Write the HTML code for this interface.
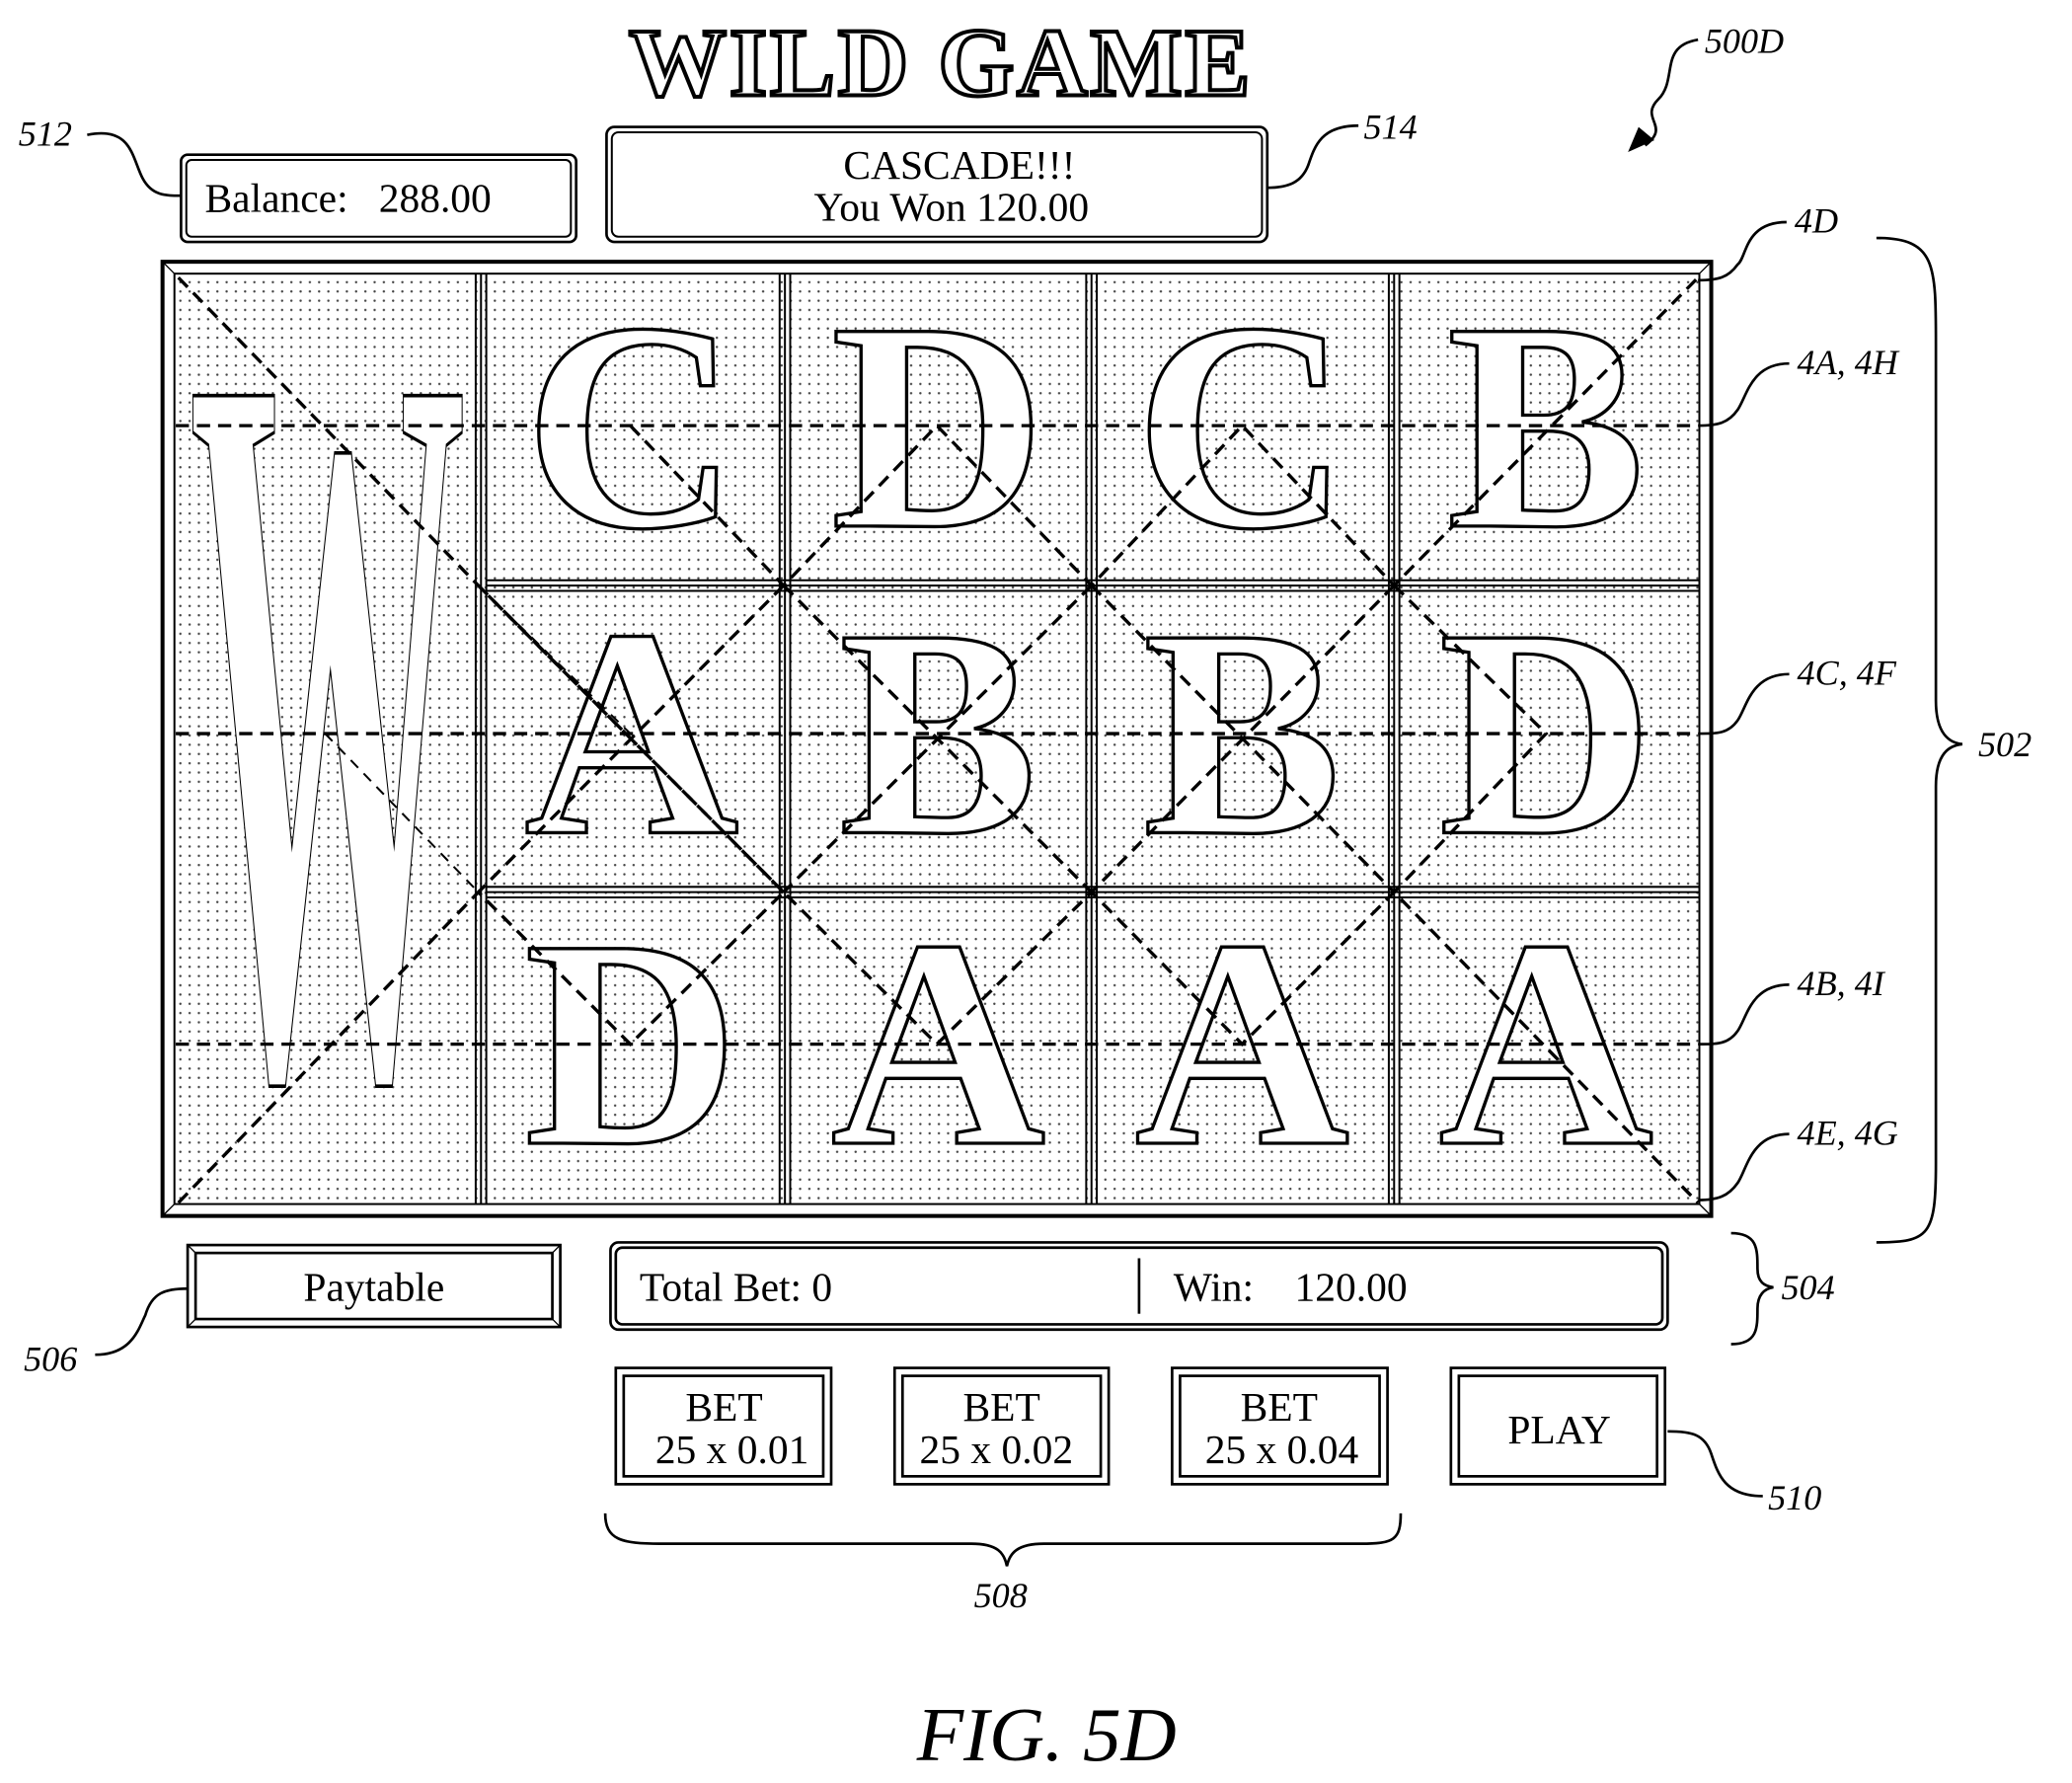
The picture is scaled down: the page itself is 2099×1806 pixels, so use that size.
<!DOCTYPE html>
<html><head><meta charset="utf-8"><style>html,body{margin:0;padding:0;background:#fff}svg{display:block}text{white-space:pre}</style></head>
<body>
<svg width="2099" height="1806" viewBox="0 0 1568 1349" xmlns="http://www.w3.org/2000/svg" font-family="Liberation Serif, serif">
<defs>
<pattern id="dots" width="7" height="7" patternUnits="userSpaceOnUse"><rect width="7" height="7" fill="#fff"/><circle cx="3.5" cy="3.5" r="0.9" fill="#444"/></pattern>
</defs>
<text x="712" y="72" text-anchor="middle" font-size="74" font-weight="bold" fill="#fff" stroke="#000" stroke-width="3" letter-spacing="2">WILD GAME</text>
<text x="1290" y="40" font-size="27" font-style="italic">500D</text>
<path d="M1285,30 C1255,35 1270,60 1255,75 C1240,90 1265,95 1245,110" fill="none" stroke="#000" stroke-width="2"/>
<polygon points="1232,115 1240,96 1252,106" fill="#000"/>
<rect x="137" y="117" width="299" height="66" rx="5" fill="#fff" stroke="#000" stroke-width="2"/>
<rect x="141" y="121" width="291" height="58" rx="4" fill="none" stroke="#000" stroke-width="1.5"/>
<text x="155" y="160" font-size="31">Balance:   288.00</text>
<text x="14" y="110" font-size="27" font-style="italic">512</text>
<path d="M66,102 C100,95 100,120 108,135 C115,148 125,148 137,148" fill="none" stroke="#000" stroke-width="2"/>
<rect x="459" y="96" width="500" height="87" rx="6" fill="#fff" stroke="#000" stroke-width="2"/>
<rect x="463" y="100" width="492" height="79" rx="5" fill="none" stroke="#000" stroke-width="1.5"/>
<text x="726" y="135" text-anchor="middle" font-size="31">CASCADE!!!</text>
<text x="720" y="167" text-anchor="middle" font-size="31">You Won 120.00</text>
<text x="1032" y="105" font-size="27" font-style="italic">514</text>
<path d="M1028,95 C1000,95 995,110 990,125 C985,138 975,142 959,142" fill="none" stroke="#000" stroke-width="2"/>
<rect x="123" y="198" width="1172" height="722" fill="#fff" stroke="#000" stroke-width="3"/>
<rect x="132" y="207" width="1154" height="704" fill="url(#dots)" stroke="#000" stroke-width="1.5"/>
<line x1="123" y1="198" x2="132" y2="207" stroke="#000"/><line x1="1295" y1="198" x2="1286" y2="207" stroke="#000"/>
<line x1="123" y1="920" x2="132" y2="911" stroke="#000"/><line x1="1295" y1="920" x2="1286" y2="911" stroke="#000"/>
<g fill="none" stroke="#000" stroke-width="1.5">
<line x1="360" y1="207" x2="360" y2="911"/><line x1="364" y1="207" x2="364" y2="911"/><line x1="368" y1="207" x2="368" y2="911"/>
<line x1="590" y1="207" x2="590" y2="911"/><line x1="594" y1="207" x2="594" y2="911"/><line x1="598" y1="207" x2="598" y2="911"/>
<line x1="822" y1="207" x2="822" y2="911"/><line x1="826" y1="207" x2="826" y2="911"/><line x1="830" y1="207" x2="830" y2="911"/>
<line x1="1051" y1="207" x2="1051" y2="911"/><line x1="1055" y1="207" x2="1055" y2="911"/><line x1="1059" y1="207" x2="1059" y2="911"/>
<line x1="368" y1="439" x2="1286" y2="439"/><line x1="368" y1="443" x2="1286" y2="443"/><line x1="368" y1="447" x2="1286" y2="447"/>
<line x1="368" y1="671" x2="1286" y2="671"/><line x1="368" y1="675" x2="1286" y2="675"/><line x1="368" y1="679" x2="1286" y2="679"/>
</g>
<g font-weight="bold" fill="#fff" stroke="#000" stroke-width="2.5" font-size="225" text-anchor="middle">
<text x="478" y="398">C</text><text x="710" y="398">D</text><text x="940" y="398">C</text><text x="1170" y="398">B</text>
<text x="478" y="630">A</text><text x="710" y="630">B</text><text x="940" y="630">B</text><text x="1170" y="630">D</text>
<text x="478" y="865">D</text><text x="710" y="865">A</text><text x="940" y="865">A</text><text x="1170" y="865">A</text>
<text transform="translate(248,810) scale(1.05,3.9)" font-size="200" stroke-width="0.7">W</text>
</g>
<g fill="none" stroke="#000" stroke-width="2.5" stroke-dasharray="10,6">
<line x1="133" y1="322" x2="1285" y2="322"/>
<line x1="133" y1="555" x2="1285" y2="555"/>
<line x1="133" y1="790" x2="1285" y2="790"/>
<polyline points="135,210 362,443 593,675 709,790 826,675 940,790 1055,675 1285,910"/>
<polyline points="135,910 362,675 477,790 593,675"/>
<polyline points="477,322 593,443 709,322 826,443 940,322 1055,443 1285,210"/>
<polyline points="362,443 593,675"/><polyline points="593,443 362,675"/>
<polyline points="593,443 826,675"/><polyline points="826,443 593,675"/>
<polyline points="826,443 1055,675"/><polyline points="1055,443 826,675"/>
<polyline points="1055,443 1170,555 1055,675"/>
</g>
<g fill="none" stroke="#000" stroke-width="1.5" stroke-dasharray="8,6">
<line x1="246" y1="555" x2="362" y2="675"/>
<line x1="362" y1="443" x2="477" y2="555"/>
</g>
<g font-size="27" font-style="italic">
<text x="1358" y="176">4D</text><text x="1360" y="283">4A, 4H</text><text x="1360" y="518">4C, 4F</text><text x="1360" y="753">4B, 4I</text><text x="1360" y="866">4E, 4G</text>
<text x="1497" y="572">502</text><text x="1348" y="983">504</text><text x="18" y="1037">506</text>
<text x="737" y="1216">508</text><text x="1338" y="1142">510</text>
</g>
<g fill="none" stroke="#000" stroke-width="2">
<path d="M1352,168 C1320,168 1322,195 1315,200 C1308,210 1300,212 1285,212"/>
<path d="M1354,275 C1325,275 1322,300 1315,310 C1308,320 1300,322 1285,322"/>
<path d="M1354,510 C1325,510 1322,535 1315,545 C1308,555 1300,555 1285,555"/>
<path d="M1354,745 C1325,745 1322,770 1315,780 C1308,790 1300,790 1285,790"/>
<path d="M1354,858 C1325,858 1322,885 1315,895 C1308,905 1300,908 1285,908"/>
<path d="M1420,180 C1465,180 1465,200 1465,260 L1465,530 C1465,555 1475,562 1485,563 C1475,564 1465,570 1465,595 L1465,880 C1465,935 1460,940 1420,940"/>
<path d="M1310,933 C1330,933 1330,945 1330,960 C1330,970 1335,973 1342,974 C1335,975 1330,980 1330,990 C1330,1005 1330,1017 1310,1017"/>
<path d="M458,1145 C458,1165 470,1168 500,1168 L735,1168 C755,1168 760,1175 762,1185 C764,1175 770,1168 790,1168 L1030,1168 C1055,1168 1060,1165 1060,1145"/>
<path d="M72,1025 C100,1025 105,1005 110,995 C115,978 125,975 142,975"/>
<path d="M1334,1132 C1305,1132 1300,1115 1295,1100 C1290,1085 1280,1083 1262,1083"/>
</g>
<g fill="#fff" stroke="#000" stroke-width="2">
<rect x="142" y="942" width="282" height="62"/><rect x="148" y="948" width="270" height="50"/>
<rect x="462" y="940" width="800" height="66" rx="6"/><rect x="466" y="944" width="792" height="58" rx="5"/>
<rect x="466" y="1035" width="163" height="88"/><rect x="472" y="1041" width="151" height="76"/>
<rect x="677" y="1035" width="162" height="88"/><rect x="683" y="1041" width="150" height="76"/>
<rect x="887" y="1035" width="163" height="88"/><rect x="893" y="1041" width="151" height="76"/>
<rect x="1098" y="1035" width="162" height="88"/><rect x="1104" y="1041" width="150" height="76"/>
</g>
<g stroke="#000" stroke-width="1">
<line x1="142" y1="942" x2="148" y2="948"/><line x1="424" y1="942" x2="418" y2="948"/><line x1="142" y1="1004" x2="148" y2="998"/><line x1="424" y1="1004" x2="418" y2="998"/>
</g>
<line x1="862" y1="952" x2="862" y2="994" stroke="#000" stroke-width="2"/>
<g font-size="31">
<text x="283" y="984" text-anchor="middle">Paytable</text>
<text x="484" y="984">Total Bet: 0</text>
<text x="888" y="984">Win:    120.00</text>
<text x="548" y="1075" text-anchor="middle">BET</text><text x="554" y="1107" text-anchor="middle">25 x 0.01</text>
<text x="758" y="1075" text-anchor="middle">BET</text><text x="754" y="1107" text-anchor="middle">25 x 0.02</text>
<text x="968" y="1075" text-anchor="middle">BET</text><text x="970" y="1107" text-anchor="middle">25 x 0.04</text>
<text x="1180" y="1092" text-anchor="middle">PLAY</text>
</g>
<text x="792" y="1332" text-anchor="middle" font-size="58" font-style="italic">FIG. 5D</text>
</svg>
</body></html>
